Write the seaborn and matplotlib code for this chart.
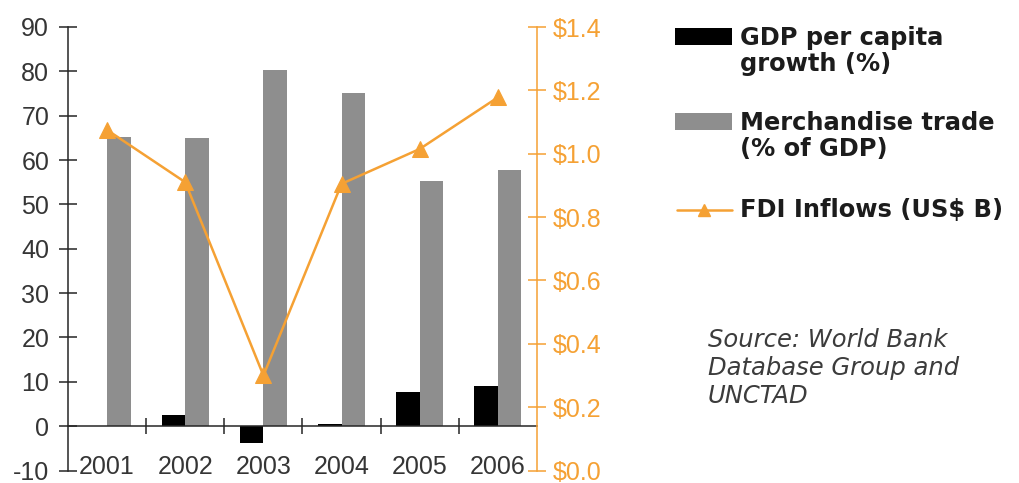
import numpy as np
import pandas as pd
import matplotlib
matplotlib.use("Agg")
import matplotlib.pyplot as plt
from matplotlib.patches import Rectangle
from matplotlib.lines import Line2D
import seaborn as sns

# ---- data -------------------------------------------------------------
years = ["2001", "2002", "2003", "2004", "2005", "2006"]
gdp_growth = [0.0, 2.5, -3.7, 0.4, 7.8, 9.0]          # GDP per capita growth (%)
merch_trade = [65.2, 65.0, 80.3, 75.2, 55.2, 57.8]    # Merchandise trade (% of GDP)
fdi_inflows = [1.075, 0.91, 0.30, 0.905, 1.015, 1.178]  # FDI inflows (US$ B)

gdp_label = "GDP per capita\ngrowth (%)"
trade_label = "Merchandise trade\n(% of GDP)"
fdi_label = "FDI Inflows (US$ B)"
source_text = "Source: World Bank\nDatabase Group and\nUNCTAD"

left_ticks = list(range(-10, 91, 10))
right_ticks = [0.0, 0.2, 0.4, 0.6, 0.8, 1.0, 1.2, 1.4]
right_ticklabels = ["$0.0", "$0.2", "$0.4", "$0.6", "$0.8", "$1.0", "$1.2", "$1.4"]

# ---- style ------------------------------------------------------------
sns.set_theme(style="white")
plt.rcParams["font.family"] = ["Liberation Sans", "DejaVu Sans"]
plt.rcParams["axes.unicode_minus"] = False

BLACK = "#000000"
GREY = "#8e8e8e"
ORANGE = "#F5A134"
AXIS_DARK = "#262626"
LABEL_DARK = "#353535"

W, H = 1019, 483
fig = plt.figure(figsize=(W / 100, H / 100), dpi=100)
fig.patch.set_facecolor("white")


def fx(px):
    return px / W


def fy(py):
    return 1 - py / H


ax = fig.add_axes([fx(68), fy(470.5), fx(537) - fx(68), fy(27) - fy(470.5)])

df = pd.DataFrame({
    "year": years * 2,
    "value": gdp_growth + merch_trade,
    "series": [gdp_label] * len(years) + [trade_label] * len(years),
})

sns.barplot(data=df, x="year", y="value", hue="series",
            palette=[BLACK, GREY], width=0.6, saturation=1,
            legend=False, ax=ax, linewidth=0, errorbar=None)

ax.set_xlim(-0.5, len(years) - 0.5)
ax.set_ylim(-10, 90)
ax.set_yticks(left_ticks)
ax.set_xlabel("")
ax.set_ylabel("")

for side in ["top", "right"]:
    ax.spines[side].set_visible(False)
ax.spines["left"].set_color(AXIS_DARK)
ax.spines["left"].set_linewidth(1.1)
ax.spines["bottom"].set_position(("data", 0))
ax.spines["bottom"].set_color(AXIS_DARK)
ax.spines["bottom"].set_linewidth(1.1)

ax.tick_params(axis="y", which="major", direction="inout", length=13, width=1.1,
               color=AXIS_DARK, labelsize=18, labelcolor=LABEL_DARK, pad=7, left=True)

# category labels below, separator ticks between categories on the zero line
ax.set_xticks(np.arange(len(years)))
ax.set_xticklabels(years)
ax.set_xticks(np.arange(0.5, len(years) - 1, 1.0), minor=True)
ax.tick_params(axis="x", which="major", length=0, labelsize=18,
               labelcolor=LABEL_DARK, pad=20.5, bottom=True)
ax.tick_params(axis="x", which="minor", direction="inout", length=11.5, width=1.1,
               color=AXIS_DARK, bottom=True)

# ---- FDI line on the secondary axis -------------------------------------
ax2 = ax.twinx()
sns.lineplot(x=np.arange(len(years)), y=fdi_inflows, ax=ax2, color=ORANGE,
             linewidth=1.8, marker="^", markersize=11.5, markeredgecolor=ORANGE,
             markerfacecolor=ORANGE, legend=False)
ax2.set_ylim(0, 1.4)
ax2.set_yticks(right_ticks)
ax2.set_yticklabels(right_ticklabels)
ax2.set_ylabel("")
for side in ["top", "left", "bottom"]:
    ax2.spines[side].set_visible(False)
ax2.spines["right"].set_color(ORANGE)
ax2.spines["right"].set_linewidth(1.1)
ax2.tick_params(axis="y", direction="inout", length=13, width=1.1, color=ORANGE,
                labelsize=18, labelcolor=ORANGE, pad=5, right=True)
ax2.grid(False)
ax.grid(False)

# ---- legend ------------------------------------------------------------
legend_font = dict(family="DejaVu Sans", weight="bold", size=17.4, color="#1c1c1c")
text_x = 740

fig.add_artist(Rectangle((fx(675), fy(45)), fx(732) - fx(675), fy(28) - fy(45),
                         transform=fig.transFigure, facecolor=BLACK, edgecolor="none"))
for i, line in enumerate(gdp_label.split("\n")):
    fig.text(fx(text_x), fy(45 + 26 * i), line, va="baseline", ha="left", **legend_font)

fig.add_artist(Rectangle((fx(675), fy(130)), fx(732) - fx(675), fy(113) - fy(130),
                         transform=fig.transFigure, facecolor=GREY, edgecolor="none"))
for i, line in enumerate(trade_label.split("\n")):
    fig.text(fx(text_x), fy(130 + 26 * i), line, va="baseline", ha="left", **legend_font)

fig.add_artist(Line2D([fx(677), fx(732)], [fy(210), fy(210)], transform=fig.transFigure,
                      color=ORANGE, linewidth=1.8))
fig.add_artist(Line2D([fx(704)], [fy(210)], transform=fig.transFigure, color=ORANGE,
                      marker="^", markersize=9, linestyle="none"))
fig.text(fx(text_x), fy(217), fdi_label, va="baseline", ha="left", **legend_font)

# ---- source note ---------------------------------------------------------
for i, line in enumerate(source_text.split("\n")):
    fig.text(fx(708), fy(347 + 28 * i), line, va="baseline", ha="left",
             family="DejaVu Sans", style="italic", size=17.5, color="#3c3c3c")

fig.savefig("out.png", dpi=100, facecolor="white")
